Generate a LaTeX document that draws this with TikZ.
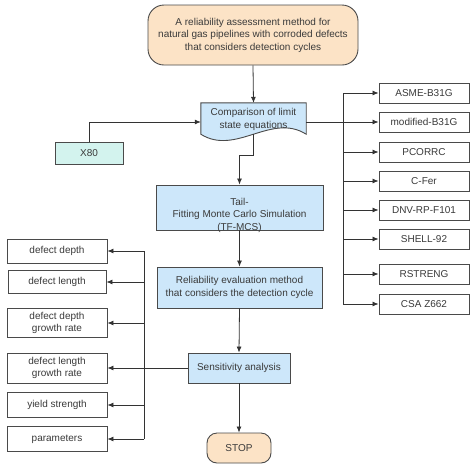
\documentclass[tikz,border=0pt]{standalone}
\usepackage{fontspec}
\setmainfont{Liberation Sans}
\usetikzlibrary{arrows.meta,calc}
\definecolor{peach}{HTML}{FCE3C6}
\definecolor{lblue}{HTML}{CDE7FA}
\definecolor{lcyan}{HTML}{D3F3EE}
\definecolor{edge}{HTML}{4A4A4A}
\definecolor{lnc}{HTML}{333333}
\definecolor{txt}{HTML}{3A3A3A}
\begin{document}
\begin{tikzpicture}[x=1pt,y=-1pt,
  box/.style={draw=edge,line width=0.9pt,text=txt,font=\fontsize{10}{12.5}\selectfont,align=center,inner sep=1pt,minimum width=#1},
  box/.default=90pt,
  bluebox/.style={box=#1,fill=lblue},
  wbox/.style={box=#1,fill=white},
  arr/.style={draw=lnc,line width=0.8pt,-{Latex[length=6pt,width=5pt]}},
  ln/.style={draw=lnc,line width=0.8pt}]
\useasboundingbox (0,0) rectangle (474,467);
\fill[white] (0,0) rectangle (474,467);

% top node
\node[box=210pt,fill=peach,minimum height=60pt,rounded corners=16pt] (top) at (253,35)
  {A reliability assessment method for\\natural gas pipelines with corroded defects\\that considers detection cycles};

% document shape
\node[minimum width=105pt,minimum height=36pt,inner sep=0pt] (doc) at (253.5,121) {};
\draw[draw=edge,line width=0.9pt,fill=lblue] (doc.north west) -- (doc.north east) -- ([yshift=5pt]doc.south east)
  .. controls ([xshift=-35pt,yshift=27pt]doc.south east) and ([xshift=35pt,yshift=-17pt]doc.south west) .. ([yshift=5pt]doc.south west) -- cycle;
\node[text=txt,font=\fontsize{10}{13}\selectfont,align=center] (doctext) at (253.5,119) {Comparison of limit\\state equations};

\node[box=68pt,fill=lcyan,minimum height=22pt] (x80) at (89,153) {X80};

% Tail box
\node[bluebox=167pt,minimum height=45pt] (tail) at (239.5,207.5) {};
\node[text=txt,font=\fontsize{10}{12.5}\selectfont,align=center] (tailtext) at (239.5,215) {Tail-\\Fitting Monte Carlo Simulation\\(TF-MCS)};

\node[bluebox=165pt,minimum height=41pt] (rel) at (239.5,287.5) {Reliability evaluation method\\that considers the detection cycle};
\node[bluebox=102pt,minimum height=30pt] (sens) at (239,368) {Sensitivity analysis};
\node[box=64pt,fill=peach,minimum height=30pt,rounded corners=10pt] (stop) at (239,448) {STOP};

% right boxes
\node[wbox=90pt,minimum height=20pt] (asme) at (424,93) {ASME-B31G};
\node[wbox=90pt,minimum height=20pt] (mod) at (424,122) {modified-B31G};
\node[wbox=90pt,minimum height=20pt] (pco) at (424,152) {PCORRC};
\node[wbox=90pt,minimum height=20pt] (cfer) at (424,181) {C-Fer};
\node[wbox=90pt,minimum height=20pt] (dnv) at (424,210) {DNV-RP-F101};
\node[wbox=90pt,minimum height=20pt] (shell) at (424,239) {SHELL-92};
\node[wbox=90pt,minimum height=20pt] (rstr) at (424,274) {RSTRENG};
\node[wbox=90pt,minimum height=20pt] (csa) at (424,304) {CSA Z662};

% left boxes
\node[wbox=100pt,minimum height=24pt] (dd) at (57,251) {defect depth};
\node[wbox=98pt,minimum height=23pt] (dl) at (57,282) {defect length};
\node[wbox=100pt,minimum height=29pt] (ddg) at (57,323) {defect depth\\growth rate};
\node[wbox=100pt,minimum height=30pt] (dlg) at (57,368) {defect length\\growth rate};
\node[wbox=100pt,minimum height=25pt] (ys) at (57,405) {yield strength};
\node[wbox=100pt,minimum height=25pt] (par) at (57,439) {parameters};

\coordinate (rt) at (343,0);
\coordinate (lt) at (144,0);
\coordinate (bend) at (253.5,155);

% connectors
\draw[arr] (top.south) -- (doc.north);
\draw[arr] (x80.north) |- ([yshift=-1pt]doc.west);
\draw[ln] ([yshift=-1pt]doc.east) -- ([yshift=-1pt]doc.east -| rt);
\draw[ln] (asme.west -| rt) -- (csa.west -| rt);
\foreach \n in {asme,mod,pco,cfer,dnv,shell,rstr,csa}
  \draw[arr] (\n.west -| rt) -- (\n.west);
\draw[arr] ([yshift=5pt]doc.south) -- (bend) -| (tail.north);
\draw[arr] (tail.south) -- (rel.north);
\draw[arr] (rel.south) -- (sens.north);
\draw[arr] (sens.south) -- (stop.north);
\draw[ln] (sens.west) -- (sens.west -| lt);
\draw[ln] (dd.east -| lt) -- (par.east -| lt);
\foreach \n in {dd,dl,ddg,dlg,ys,par}
  \draw[arr] (\n.east -| lt) -- (\n.east);
\end{tikzpicture}
\end{document}
